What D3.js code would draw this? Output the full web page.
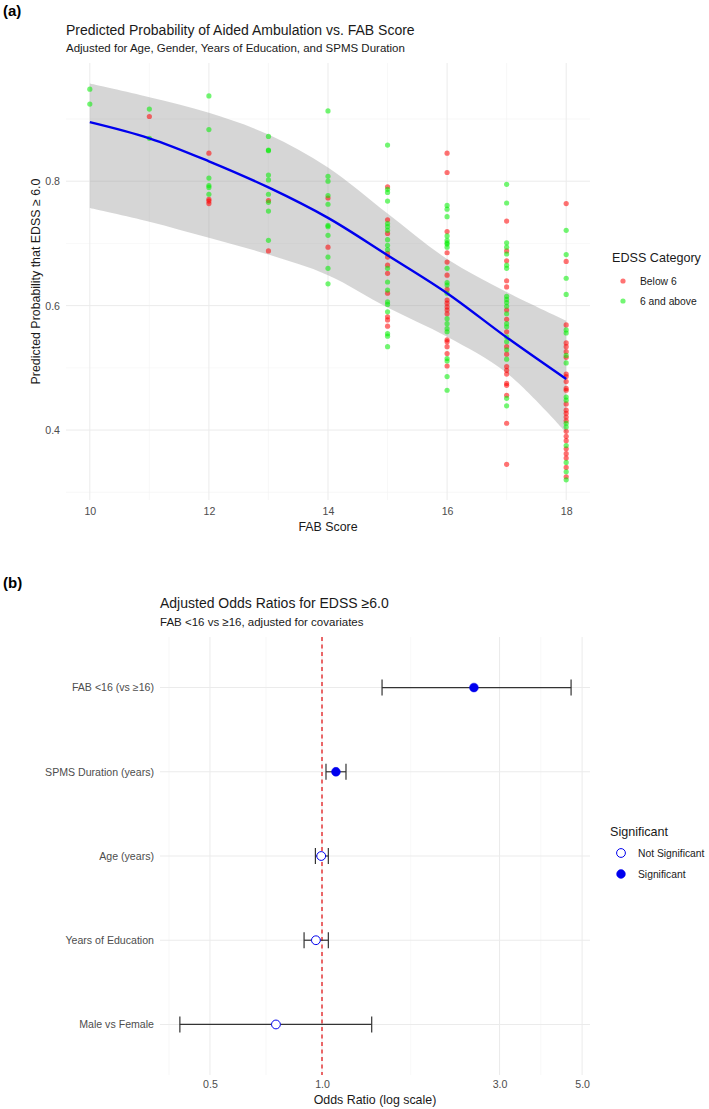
<!DOCTYPE html>
<html>
<head>
<meta charset="utf-8">
<script src="https://cdn.jsdelivr.net/npm/d3@7"></script>
<style>
  body { margin: 0; background: #fff; }
  text { font-family: "Liberation Sans", Arial, sans-serif; }
</style>
</head>
<body>
<script>
// ---- panel (a) data ----
var fabScores = [10, 11, 12, 13, 14, 15, 16, 17, 18];
var fitProb   = [0.895, 0.869, 0.832, 0.790, 0.741, 0.681, 0.620, 0.549, 0.482];
var upperProb = [0.957, 0.935, 0.910, 0.875, 0.822, 0.748, 0.675, 0.622, 0.576];
var lowerProb = [0.757, 0.735, 0.709, 0.682, 0.649, 0.597, 0.550, 0.492, 0.396];

var below6 = [
  [11, 0.904],
  [12, 0.845], [12, 0.771], [12, 0.768], [12, 0.764],
  [13, 0.769], [13, 0.688],
  [14, 0.773], [14, 0.694],
  [15, 0.791], [15, 0.738], [15, 0.716], [15, 0.684], [15, 0.678], [15, 0.665], [15, 0.652],
  [15, 0.620], [15, 0.582], [15, 0.577], [15, 0.567],
  [16, 0.845], [16, 0.814], [16, 0.719], [16, 0.685], [16, 0.670], [16, 0.649], [16, 0.626],
  [16, 0.609], [16, 0.604], [16, 0.598], [16, 0.593], [16, 0.587], [16, 0.545], [16, 0.542],
  [16, 0.534], [16, 0.523], [16, 0.503],
  [17, 0.736], [17, 0.688], [17, 0.672], [17, 0.640], [17, 0.630], [17, 0.593], [17, 0.578],
  [17, 0.558], [17, 0.534], [17, 0.522], [17, 0.502], [17, 0.496], [17, 0.490], [17, 0.475],
  [17, 0.472], [17, 0.456], [17, 0.411], [17, 0.345],
  [18, 0.764], [18, 0.671], [18, 0.569], [18, 0.540], [18, 0.534], [18, 0.526], [18, 0.517],
  [18, 0.490], [18, 0.486], [18, 0.478], [18, 0.467], [18, 0.464], [18, 0.442], [18, 0.432],
  [18, 0.427], [18, 0.421], [18, 0.415], [18, 0.398], [18, 0.390], [18, 0.383], [18, 0.370],
  [18, 0.362], [18, 0.355], [18, 0.340], [18, 0.325]
];

var sixAbove = [
  [10, 0.948], [10, 0.924],
  [11, 0.916], [11, 0.869],
  [12, 0.937], [12, 0.883], [12, 0.805], [12, 0.793], [12, 0.790], [12, 0.779],
  [13, 0.872], [13, 0.850], [13, 0.849], [13, 0.810], [13, 0.802], [13, 0.779], [13, 0.766],
  [13, 0.752], [13, 0.705],
  [14, 0.913], [14, 0.808], [14, 0.800], [14, 0.777], [14, 0.763], [14, 0.729], [14, 0.727],
  [14, 0.713], [14, 0.678], [14, 0.660], [14, 0.635],
  [15, 0.858], [15, 0.787], [15, 0.782], [15, 0.768], [15, 0.732], [15, 0.727], [15, 0.721],
  [15, 0.706], [15, 0.697], [15, 0.690], [15, 0.660], [15, 0.638], [15, 0.625], [15, 0.606],
  [15, 0.602], [15, 0.590], [15, 0.555], [15, 0.551], [15, 0.534],
  [16, 0.761], [16, 0.755], [16, 0.743], [16, 0.712], [16, 0.705], [16, 0.701], [16, 0.699],
  [16, 0.694], [16, 0.660], [16, 0.637], [16, 0.633], [16, 0.620], [16, 0.579], [16, 0.571],
  [16, 0.563], [16, 0.558], [16, 0.515], [16, 0.511], [16, 0.486], [16, 0.464],
  [17, 0.795], [17, 0.765], [17, 0.701], [17, 0.694], [17, 0.683], [17, 0.665], [17, 0.660],
  [17, 0.615], [17, 0.610], [17, 0.605], [17, 0.599], [17, 0.587], [17, 0.571], [17, 0.566],
  [17, 0.550], [17, 0.542], [17, 0.529], [17, 0.514], [17, 0.451], [17, 0.439],
  [18, 0.721], [18, 0.682], [18, 0.644], [18, 0.618], [18, 0.561], [18, 0.556], [18, 0.520],
  [18, 0.508], [18, 0.453], [18, 0.448], [18, 0.411], [18, 0.405], [18, 0.375], [18, 0.348],
  [18, 0.333], [18, 0.320]
];

var xTicksA = [10, 12, 14, 16, 18];
var xMinorA = [11, 13, 15, 17];
var yTicksA = [0.4, 0.6, 0.8];
var yMinorA = [0.3, 0.5, 0.7, 0.9];

// ---- panel (b) data ----
var terms   = ["FAB <16 (vs \u226516)", "SPMS Duration (years)", "Age (years)", "Years of Education", "Male vs Female"];
var oddsRat = [2.56, 1.09, 0.995, 0.963, 0.752];
var ciLow   = [1.45, 1.025, 0.96, 0.895, 0.415];
var ciHigh  = [4.67, 1.16, 1.04, 1.04, 1.36];
var signif  = [true, true, false, false, false];
var xTicksB = [0.5, 1.0, 3.0, 5.0];
var xMinorB = [0.388, 0.7071, 1.732, 3.873];

var W = 709, H = 1109;
var svg = d3.select('body').append('svg')
  .attr('width', W)
  .attr('height', H);

var tickSize = '10.6px';

// ================= panel (a) =================
var pa = { left: 66, right: 590, top: 63, bottom: 500 };
var xA = d3.scaleLinear().domain([9.6, 18.4]).range([pa.left, pa.right]);
var yA = d3.scaleLinear().domain([0.2876, 0.99]).range([pa.bottom, pa.top]);

var gA = svg.append('g');

gA.selectAll('line.yminor').data(yMinorA).enter().append('line')
  .attr('x1', pa.left).attr('x2', pa.right)
  .attr('y1', function(d) { return yA(d); }).attr('y2', function(d) { return yA(d); })
  .attr('stroke', '#f3f3f3').attr('stroke-width', 0.6);
gA.selectAll('line.xminor').data(xMinorA).enter().append('line')
  .attr('y1', pa.top).attr('y2', pa.bottom)
  .attr('x1', function(d) { return xA(d); }).attr('x2', function(d) { return xA(d); })
  .attr('stroke', '#f3f3f3').attr('stroke-width', 0.6);
gA.selectAll('line.ymajor').data(yTicksA).enter().append('line')
  .attr('x1', pa.left).attr('x2', pa.right)
  .attr('y1', function(d) { return yA(d); }).attr('y2', function(d) { return yA(d); })
  .attr('stroke', '#ebebeb').attr('stroke-width', 1);
gA.selectAll('line.xmajor').data(xTicksA).enter().append('line')
  .attr('y1', pa.top).attr('y2', pa.bottom)
  .attr('x1', function(d) { return xA(d); }).attr('x2', function(d) { return xA(d); })
  .attr('stroke', '#ebebeb').attr('stroke-width', 1);

var band = fabScores.map(function(f, i) {
  return { x: f, fit: fitProb[i], lo: lowerProb[i], hi: upperProb[i] };
});

gA.append('path').datum(band)
  .attr('d', d3.area().curve(d3.curveCatmullRom.alpha(0.5))
    .x(function(d) { return xA(d.x); })
    .y0(function(d) { return yA(d.lo); })
    .y1(function(d) { return yA(d.hi); }))
  .attr('fill', '#999999').attr('fill-opacity', 0.4);

gA.selectAll('circle.below').data(below6).enter().append('circle')
  .attr('cx', function(d) { return xA(d[0]); })
  .attr('cy', function(d) { return yA(d[1]); })
  .attr('r', 2.6)
  .attr('fill', 'red').attr('fill-opacity', 0.55);

gA.selectAll('circle.above').data(sixAbove).enter().append('circle')
  .attr('cx', function(d) { return xA(d[0]); })
  .attr('cy', function(d) { return yA(d[1]); })
  .attr('r', 2.6)
  .attr('fill', '#00ee00').attr('fill-opacity', 0.55);

gA.append('path').datum(band)
  .attr('d', d3.line().curve(d3.curveCatmullRom.alpha(0.5))
    .x(function(d) { return xA(d.x); })
    .y(function(d) { return yA(d.fit); }))
  .attr('fill', 'none').attr('stroke', '#0000ee').attr('stroke-width', 2.4);

// axes
var xAxisA = gA.append('g').attr('transform', 'translate(0,' + (pa.bottom + 3) + ')')
  .call(d3.axisBottom(xA).tickValues(xTicksA).tickSize(0).tickPadding(4));
var yAxisA = gA.append('g').attr('transform', 'translate(' + (pa.left - 4) + ',0)')
  .call(d3.axisLeft(yA).tickValues(yTicksA).tickSize(0).tickPadding(2).tickFormat(d3.format('.1f')));
[xAxisA, yAxisA].forEach(function(ax) {
  ax.select('.domain').remove();
  ax.selectAll('text').attr('fill', '#4d4d4d').style('font-size', tickSize)
    .style('font-family', '"Liberation Sans", Arial, sans-serif');
});

svg.append('text').attr('x', 3).attr('y', 16).text('(a)')
  .style('font-size', '15px').style('font-weight', 'bold');
svg.append('text').attr('x', pa.left).attr('y', 35)
  .text('Predicted Probability of Aided Ambulation vs. FAB Score')
  .style('font-size', '14px').attr('fill', '#1a1a1a');
svg.append('text').attr('x', pa.left).attr('y', 52)
  .text('Adjusted for Age, Gender, Years of Education, and SPMS Duration')
  .style('font-size', '11.5px').attr('fill', '#1a1a1a');
svg.append('text').attr('x', (pa.left + pa.right) / 2).attr('y', 531)
  .attr('text-anchor', 'middle').text('FAB Score')
  .style('font-size', '12.4px').attr('fill', '#1a1a1a');
svg.append('text')
  .attr('transform', 'translate(40,' + ((pa.top + pa.bottom) / 2) + ') rotate(-90)')
  .attr('text-anchor', 'middle').text('Predicted Probability that EDSS \u2265 6.0')
  .style('font-size', '12.4px').attr('fill', '#1a1a1a');

// legend (a)
var legA = svg.append('g').attr('transform', 'translate(612,0)');
legA.append('text').attr('x', 0).attr('y', 262).text('EDSS Category')
  .style('font-size', '12.6px').attr('fill', '#1a1a1a');
var legItemsA = [['Below 6', 'red'], ['6 and above', '#00ee00']];
legA.selectAll('g.item').data(legItemsA).enter().append('g')
  .each(function(d, i) {
    var g = d3.select(this);
    g.append('circle').attr('cx', 11).attr('cy', 281 + i * 20).attr('r', 2.6)
      .attr('fill', d[1]).attr('fill-opacity', 0.55);
    g.append('text').attr('x', 28).attr('y', 285 + i * 20).text(d[0])
      .style('font-size', '10.3px').attr('fill', '#1a1a1a');
  });

// ================= panel (b) =================
var pb = { left: 160, right: 590, top: 637, bottom: 1075 };
var xB = d3.scaleLog().domain([0.367, 5.25]).range([pb.left, pb.right]);
var yB = d3.scaleLinear().domain([0.4, 5.6]).range([pb.top, pb.bottom]);

var gB = svg.append('g');

gB.selectAll('line.xminor').data(xMinorB).enter().append('line')
  .attr('y1', pb.top).attr('y2', pb.bottom)
  .attr('x1', function(d) { return xB(d); }).attr('x2', function(d) { return xB(d); })
  .attr('stroke', '#f3f3f3').attr('stroke-width', 0.6);
gB.selectAll('line.xmajor').data(xTicksB).enter().append('line')
  .attr('y1', pb.top).attr('y2', pb.bottom)
  .attr('x1', function(d) { return xB(d); }).attr('x2', function(d) { return xB(d); })
  .attr('stroke', '#ebebeb').attr('stroke-width', 1);
gB.selectAll('line.ymajor').data(terms).enter().append('line')
  .attr('x1', pb.left).attr('x2', pb.right)
  .attr('y1', function(d, i) { return yB(i + 1); }).attr('y2', function(d, i) { return yB(i + 1); })
  .attr('stroke', '#ebebeb').attr('stroke-width', 1);

gB.append('line')
  .attr('x1', xB(1)).attr('x2', xB(1))
  .attr('y1', pb.top).attr('y2', pb.bottom)
  .attr('stroke', '#e31a1c').attr('stroke-width', 1.3)
  .attr('stroke-dasharray', '4,3.5');

var rows = terms.map(function(t, i) {
  return { term: t, or: oddsRat[i], lo: ciLow[i], hi: ciHigh[i], sig: signif[i], pos: i + 1 };
});

var bars = gB.selectAll('g.bar').data(rows).enter().append('g');
bars.append('line')
  .attr('x1', function(d) { return xB(d.lo); }).attr('x2', function(d) { return xB(d.hi); })
  .attr('y1', function(d) { return yB(d.pos); }).attr('y2', function(d) { return yB(d.pos); })
  .attr('stroke', '#333').attr('stroke-width', 1.2);
bars.append('line')
  .attr('x1', function(d) { return xB(d.lo); }).attr('x2', function(d) { return xB(d.lo); })
  .attr('y1', function(d) { return yB(d.pos) - 8; }).attr('y2', function(d) { return yB(d.pos) + 8; })
  .attr('stroke', '#333').attr('stroke-width', 1.2);
bars.append('line')
  .attr('x1', function(d) { return xB(d.hi); }).attr('x2', function(d) { return xB(d.hi); })
  .attr('y1', function(d) { return yB(d.pos) - 8; }).attr('y2', function(d) { return yB(d.pos) + 8; })
  .attr('stroke', '#333').attr('stroke-width', 1.2);
bars.append('circle')
  .attr('cx', function(d) { return xB(d.or); })
  .attr('cy', function(d) { return yB(d.pos); })
  .attr('r', 4.4)
  .attr('fill', function(d) { return d.sig ? '#0000ee' : '#ffffff'; })
  .attr('stroke', '#0000ee')
  .attr('stroke-width', function(d) { return d.sig ? 0.5 : 1; });

var xAxisB = gB.append('g').attr('transform', 'translate(0,' + (pb.bottom + 3) + ')')
  .call(d3.axisBottom(xB).tickValues(xTicksB).tickSize(0).tickPadding(2).tickFormat(d3.format('.1f')));
xAxisB.select('.domain').remove();
xAxisB.selectAll('text').attr('fill', '#4d4d4d').style('font-size', tickSize)
  .style('font-family', '"Liberation Sans", Arial, sans-serif');

gB.selectAll('text.term').data(rows).enter().append('text')
  .attr('x', pb.left - 6)
  .attr('y', function(d) { return yB(d.pos) + 3.8; })
  .attr('text-anchor', 'end')
  .text(function(d) { return d.term; })
  .style('font-size', tickSize).attr('fill', '#4d4d4d');

svg.append('text').attr('x', 3).attr('y', 588).text('(b)')
  .style('font-size', '15px').style('font-weight', 'bold');
svg.append('text').attr('x', pb.left).attr('y', 608)
  .text('Adjusted Odds Ratios for EDSS \u22656.0')
  .style('font-size', '14px').attr('fill', '#1a1a1a');
svg.append('text').attr('x', pb.left).attr('y', 626)
  .text('FAB <16 vs \u226516, adjusted for covariates')
  .style('font-size', '11.5px').attr('fill', '#1a1a1a');
svg.append('text').attr('x', (pb.left + pb.right) / 2).attr('y', 1104)
  .attr('text-anchor', 'middle').text('Odds Ratio (log scale)')
  .style('font-size', '12.4px').attr('fill', '#1a1a1a');

// legend (b)
var legB = svg.append('g').attr('transform', 'translate(610,0)');
legB.append('text').attr('x', 0).attr('y', 836).text('Significant')
  .style('font-size', '12.6px').attr('fill', '#1a1a1a');
var legItemsB = [['Not Significant', false], ['Significant', true]];
legB.selectAll('g.item').data(legItemsB).enter().append('g')
  .each(function(d, i) {
    var g = d3.select(this);
    g.append('circle').attr('cx', 11).attr('cy', 853 + i * 21).attr('r', 4.4)
      .attr('fill', d[1] ? '#0000ee' : '#ffffff')
      .attr('stroke', '#0000ee').attr('stroke-width', d[1] ? 0.5 : 1);
    g.append('text').attr('x', 28).attr('y', 857 + i * 21).text(d[0])
      .style('font-size', '10.3px').attr('fill', '#1a1a1a');
  });
</script>
</body>
</html>
